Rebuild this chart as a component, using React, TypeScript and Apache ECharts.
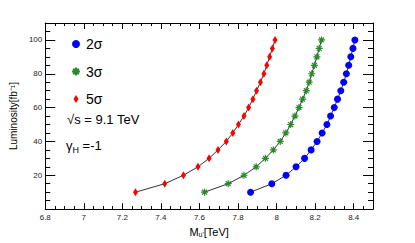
import React, { useEffect, useRef } from "react";
import * as echarts from "echarts";

const luminosity = [10, 15, 20, 25, 30, 35, 40, 45, 50, 55, 60, 65, 70, 75, 80, 85, 90, 95, 100];
const mass2sigma = [7.865, 7.975, 8.049, 8.101, 8.145, 8.179, 8.21, 8.236, 8.261, 8.28, 8.299, 8.316, 8.333, 8.348, 8.362, 8.374, 8.385, 8.396, 8.406];
const mass3sigma = [7.626, 7.749, 7.831, 7.894, 7.942, 7.983, 8.019, 8.048, 8.073, 8.095, 8.116, 8.135, 8.154, 8.169, 8.182, 8.196, 8.209, 8.221, 8.233];
const mass5sigma = [7.268, 7.42, 7.517, 7.592, 7.65, 7.696, 7.739, 7.773, 7.802, 7.831, 7.855, 7.877, 7.896, 7.916, 7.934, 7.949, 7.964, 7.978, 7.992];
const seriesNames = ["2σ", "3σ", "5σ"];
const xRange = [6.8, 8.5];
const yRange = [0, 110];

const FONT = "'Liberation Sans', Arial, Helvetica, sans-serif";
const ASTERISK = "path://M5,0 L5,10 M0,5 L10,5 M1.5,1.5 L8.5,8.5 M1.5,8.5 L8.5,1.5";
const THIN_DIAMOND = "path://M2.5,0 L5,4 L2.5,8 L0,4 Z";

const zip = (xs: number[]) => xs.map((x, i) => [x, luminosity[i]]);

export default function App() {
  const ref = useRef<HTMLDivElement>(null);
  useEffect(() => {
    if (!ref.current) return;
    const chart = echarts.init(ref.current, undefined, { renderer: "svg" });
    const frame = { show: true, onZero: false, lineStyle: { color: "#000", width: 1 } };
    const noLine = { show: false, onZero: false };
    const tick = (len: number) => ({ show: true, inside: true, length: len, lineStyle: { color: "#000", width: 1 } });
    const xFmt = (v: number) => {
      const r = Math.round(v * 5);
      if (Math.abs(v * 5 - r) > 1e-6 || v > 8.45) return "";
      return String(+v.toFixed(1));
    };
    const yFmt = (v: number) => (v > 0 && v <= 100 && v % 20 === 0 ? String(v) : "");
    const xBase = (pos: string) => ({
      type: "value",
      min: xRange[0],
      max: xRange[1],
      position: pos,
      splitLine: { show: false },
      minorTick: { show: false },
    });
    const yBase = (pos: string) => ({
      type: "value",
      min: yRange[0],
      max: yRange[1],
      position: pos,
      splitLine: { show: false },
      minorTick: { show: false },
    });
    chart.setOption({
      animation: false,
      backgroundColor: "#fff",
      textStyle: { fontFamily: FONT },
      grid: { left: 41, right: 42, top: 23, bottom: 24, containLabel: false },
      xAxis: [
        {
          ...xBase("bottom"),
          interval: 0.2,
          axisLine: frame,
          axisTick: tick(6),
          axisLabel: { formatter: xFmt, fontSize: 8, color: "#222", margin: 4, showMaxLabel: false, fontFamily: FONT },
          name: "M{sub|u'}[TeV]",
          nameLocation: "middle",
          nameGap: 12,
          nameTextStyle: {
            fontSize: 11,
            color: "#000",
            fontFamily: FONT,
            rich: { sub: { fontSize: 7, verticalAlign: "bottom", padding: [6, 0, 0, 0], fontFamily: FONT } },
          },
        },
        { ...xBase("bottom"), interval: 0.05, axisLine: noLine, axisTick: tick(3), axisLabel: { show: false } },
        { ...xBase("top"), interval: 0.2, axisLine: frame, axisTick: tick(6), axisLabel: { show: false } },
        { ...xBase("top"), interval: 0.05, axisLine: noLine, axisTick: tick(3), axisLabel: { show: false } },
      ],
      yAxis: [
        {
          ...yBase("left"),
          interval: 20,
          axisLine: frame,
          axisTick: tick(10),
          axisLabel: { formatter: yFmt, fontSize: 8, color: "#222", margin: 3, fontFamily: FONT },
          name: "Luminosity[fb⁻¹]",
          nameLocation: "middle",
          nameGap: 27,
          nameTextStyle: { fontSize: 10, color: "#000", fontFamily: FONT },
        },
        { ...yBase("left"), interval: 5, axisLine: noLine, axisTick: tick(5), axisLabel: { show: false } },
        { ...yBase("right"), interval: 20, axisLine: frame, axisTick: tick(10), axisLabel: { show: false } },
        { ...yBase("right"), interval: 5, axisLine: noLine, axisTick: tick(5), axisLabel: { show: false } },
      ],
      legend: {
        orient: "vertical",
        left: 66,
        top: 32,
        itemWidth: 10,
        itemHeight: 8,
        itemGap: 13.5,
        textStyle: { fontSize: 14, lineHeight: 14, color: "#000", fontFamily: FONT },
        data: [
          { name: seriesNames[0], icon: "circle" },
          { name: seriesNames[1], icon: ASTERISK },
          { name: seriesNames[2], icon: THIN_DIAMOND },
        ],
      },
      series: [
        {
          name: seriesNames[0],
          type: "line",
          data: zip(mass2sigma),
          symbol: "circle",
          symbolSize: 7,
          itemStyle: { color: "#0000ff" },
          lineStyle: { color: "#333", width: 1 },
        },
        {
          name: seriesNames[1],
          type: "line",
          data: zip(mass3sigma),
          symbol: ASTERISK,
          symbolSize: 7,
          itemStyle: { color: "rgba(0,0,0,0)", borderColor: "#2a8a2a", borderWidth: 1.2 },
          lineStyle: { color: "#333", width: 1 },
        },
        {
          name: seriesNames[2],
          type: "line",
          data: zip(mass5sigma),
          symbol: THIN_DIAMOND,
          symbolSize: [5, 8],
          itemStyle: { color: "#ff0000" },
          lineStyle: { color: "#333", width: 1 },
        },
      ],
      graphic: [
        {
          type: "text",
          left: 67,
          top: 113,
          style: { text: "√s = 9.1 TeV", fontSize: 13, fill: "#000", fontFamily: FONT },
        },
        {
          type: "text",
          left: 66,
          top: 139,
          style: {
            text: "{g|γ}{sub|H} =-1",
            fill: "#000",
            fontFamily: FONT,
            rich: {
              g: { fontSize: 13, fontFamily: FONT },
              sub: { fontSize: 9, fontFamily: FONT, padding: [8, 0, 0, 0] },
            },
            fontSize: 13,
          },
        },
      ],
    });
    return () => chart.dispose();
  }, []);
  return <div ref={ref} style={{ position: "fixed", left: 0, top: 0, width: 415, height: 243 }} />;
}
